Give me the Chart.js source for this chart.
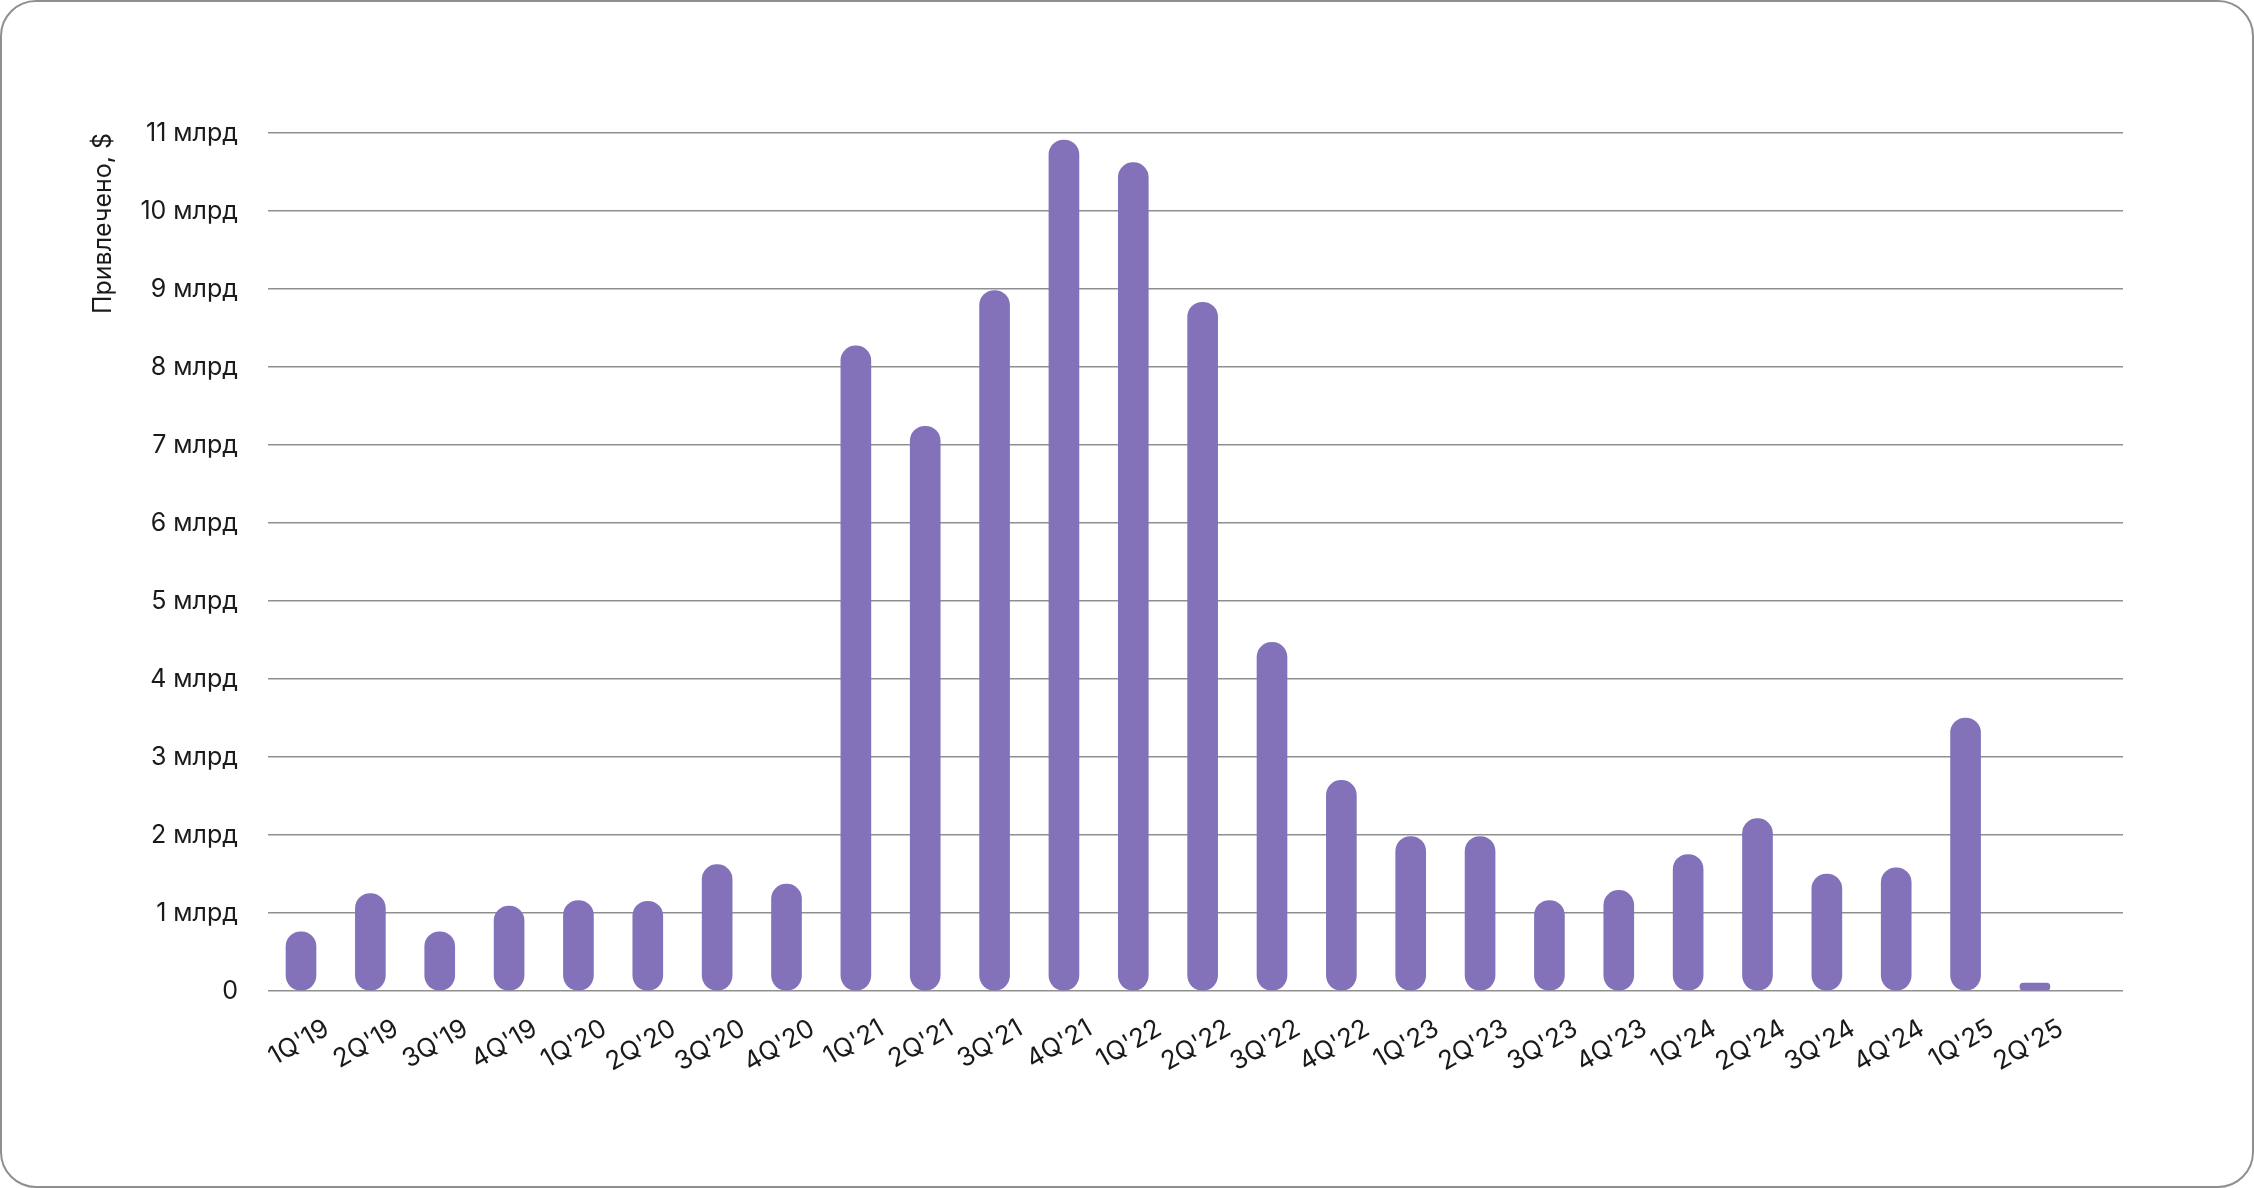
<!DOCTYPE html>
<html lang="ru">
<head>
<meta charset="utf-8">
<script src="https://cdn.jsdelivr.net/npm/chart.js@4.4.1/dist/chart.umd.min.js"></script>
<style>
  body { margin: 0; background: #fff; }
  .wrap { position: relative; width: 2254px; height: 1188px; }
  #raisedChart { position: absolute; left: 0; top: 0; }
  .frame {
    position: absolute; left: 0; top: 0; width: 2254px; height: 1188px;
    box-sizing: border-box; border: 2px solid #8f8f8f; border-radius: 36px;
    pointer-events: none;
  }
</style>
</head>
<body>
<div class="wrap">
  <canvas id="raisedChart" width="2254" height="1188"></canvas>
  <div class="frame"></div>
</div>
<script>
// кварталы и привлечённые суммы, млрд $
const quarters = ["1Q'19", "2Q'19", "3Q'19", "4Q'19", "1Q'20", "2Q'20", "3Q'20", "4Q'20",
  "1Q'21", "2Q'21", "3Q'21", "4Q'21", "1Q'22", "2Q'22", "3Q'22", "4Q'22",
  "1Q'23", "2Q'23", "3Q'23", "4Q'23", "1Q'24", "2Q'24", "3Q'24", "4Q'24",
  "1Q'25", "2Q'25"];
const raised = [0.76, 1.25, 0.76, 1.09, 1.16, 1.15, 1.62, 1.37,
  8.27, 7.24, 8.98, 10.91, 10.62, 8.83, 4.47, 2.70,
  1.98, 1.98, 1.16, 1.29, 1.75, 2.21, 1.50, 1.58,
  3.50, 0.10];
const yTicks = [0, 1, 2, 3, 4, 5, 6, 7, 8, 9, 10, 11];

const font = { family: 'Inter', size: 25 };

const ctx = document.getElementById('raisedChart');
const raisedChart = new Chart(ctx, {
  type: 'bar',
  data: {
    datasets: [{
      label: 'Привлечено',
      data: raised.map((v, i) => ({ x: i, y: v })),
      backgroundColor: '#8372b9',
      borderWidth: 0,
      borderSkipped: false,
      borderRadius: 15,
      barThickness: 30
    }]
  },
  options: {
    responsive: false,
    animation: false,
    devicePixelRatio: 1,
    layout: {
      padding: { left: 88, right: 131, top: 133, bottom: 97 }
    },
    plugins: {
      legend: { display: false },
      tooltip: { enabled: false }
    },
    scales: {
      x: {
        type: 'linear',
        offset: false,
        min: -0.476,
        max: 26.27,
        afterBuildTicks: (scale) => {
          scale.ticks = quarters.map((q, i) => ({ value: i }));
        },
        afterFit: (scale) => { scale.height = 100; },
        grid: { display: false, drawTicks: false },
        border: { display: false },
        ticks: {
          autoSkip: false,
          minRotation: 30,
          maxRotation: 30,
          padding: 22,
          labelOffset: 26,
          color: '#1a1a1a',
          font: { family: 'Inter', size: 26 },
          callback: (value) => quarters[value]
        }
      },
      y: {
        min: 0,
        max: 11,
        afterBuildTicks: (scale) => {
          scale.ticks = yTicks.map(v => ({ value: v }));
        },
        afterFit: (scale) => { scale.width = 180; },
        grid: { color: '#8f8f8f', lineWidth: 1.5, drawTicks: false },
        border: { display: false },
        title: {
          display: true,
          text: 'Привлечено, $',
          align: 'end',
          color: '#1a1a1a',
          font: font,
          padding: 0
        },
        ticks: {
          padding: 30,
          color: '#1a1a1a',
          font: font,
          callback: (value) => value === 0 ? '0' : value + ' млрд'
        }
      }
    }
  }
});
</script>
</body>
</html>
